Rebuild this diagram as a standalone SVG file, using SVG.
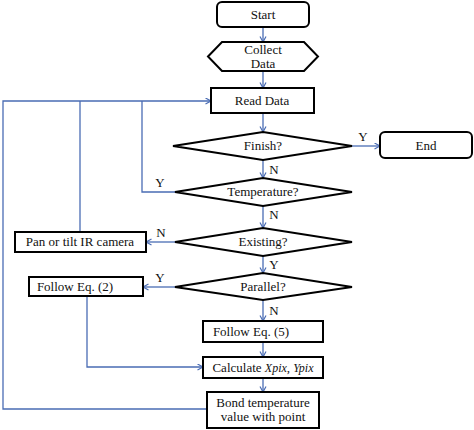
<svg xmlns="http://www.w3.org/2000/svg" width="474" height="430" viewBox="0 0 474 430">
<defs>
<marker id="arr" markerWidth="8" markerHeight="8" refX="6" refY="3.5" orient="auto" markerUnits="userSpaceOnUse">
<path d="M0.5,0.5 L6,3.5 L0.5,6.5" fill="none" stroke="#4a6cb4" stroke-width="1.2"/>
</marker>
<style>
.box{fill:#fff;stroke:#000;stroke-width:2}
.t{font-family:"Liberation Serif","Times New Roman",serif;font-size:13px;fill:#111;text-anchor:middle}
.l{font-family:"Liberation Serif","Times New Roman",serif;font-size:13px;fill:#111;text-anchor:middle}
.c{fill:none;stroke:#4a6cb4;stroke-width:1.3}
.a{marker-end:url(#arr)}
</style>
</defs>
<rect width="474" height="430" fill="#fff"/>
<g id="connectors">
<path class="c a" d="M263,27 V42"/>
<path class="c a" d="M263,71 V88"/>
<path class="c a" d="M263,113 V132"/>
<path class="c a" d="M352,146 H380"/>
<path class="c a" d="M263,160 V178"/>
<path class="c" d="M175,192 H142 V101"/>
<path class="c a" d="M263,206 V228"/>
<path class="c a" d="M175,242 H146"/>
<path class="c" d="M80,232 V101"/>
<path class="c a" d="M263,256 V273"/>
<path class="c a" d="M175,287 H143"/>
<path class="c a" d="M263,300 V321"/>
<path class="c a" d="M87,296 V367 H203"/>
<path class="c a" d="M263,342 V357"/>
<path class="c a" d="M263,378 V392"/>
<path class="c a" d="M207,409 H3 V101 H211"/>
<text class="l" x="363" y="141">Y</text>
<text class="l" x="274" y="174">N</text>
<text class="l" x="160" y="187">Y</text>
<text class="l" x="274" y="219">N</text>
<text class="l" x="161" y="237">N</text>
<text class="l" x="274" y="269">Y</text>
<text class="l" x="160" y="282">Y</text>
<text class="l" x="274" y="315">N</text>
</g>
<g id="start">
<rect class="box" x="217" y="2" width="92" height="25" rx="5"/>
<text class="t" x="263" y="19">Start</text>
</g>
<g id="collect">
<polygon class="box" points="208,56.5 222,42 304,42 318,56.5 304,71 222,71"/>
<text class="t" x="263" y="54">Collect</text>
<text class="t" x="263" y="68">Data</text>
</g>
<g id="read">
<rect class="box" x="211" y="88" width="103" height="25"/>
<text class="t" x="262" y="105">Read Data</text>
</g>
<g id="finish">
<polygon class="box" points="173,146 263,132 352,146 263,160"/>
<text class="t" x="263" y="150">Finish?</text>
</g>
<g id="end">
<rect class="box" x="380" y="132" width="92" height="26" rx="5"/>
<text class="t" x="426" y="150">End</text>
</g>
<g id="temperature">
<polygon class="box" points="175,192 263,178 352,192 263,206"/>
<text class="t" x="263" y="196">Temperature?</text>
</g>
<g id="existing">
<polygon class="box" points="175,242 263,228 352,242 263,256"/>
<text class="t" x="263" y="246">Existing?</text>
</g>
<g id="pan">
<rect class="box" x="15" y="232" width="131" height="20"/>
<text class="t" x="80" y="246">Pan or tilt IR camera</text>
</g>
<g id="parallel">
<polygon class="box" points="175,287 263,273 352,287 263,300"/>
<text class="t" x="263" y="291">Parallel?</text>
</g>
<g id="eq2">
<rect class="box" x="29" y="277" width="114" height="19"/>
<text class="t" x="75" y="291">Follow Eq. (2)</text>
</g>
<g id="eq5">
<rect class="box" x="203" y="321" width="120" height="21"/>
<text class="t" x="251" y="336">Follow Eq. (5)</text>
</g>
<g id="calculate">
<rect class="box" x="203" y="357" width="120" height="21"/>
<text class="t" x="263" y="372">Calculate <tspan font-style="italic" font-size="12">Xpix</tspan>, <tspan font-style="italic" font-size="12">Ypix</tspan></text>
</g>
<g id="bond">
<rect class="box" x="207" y="392" width="112" height="36"/>
<text class="t" x="263" y="407">Bond temperature</text>
<text class="t" x="263" y="421">value with point</text>
</g>
</svg>
